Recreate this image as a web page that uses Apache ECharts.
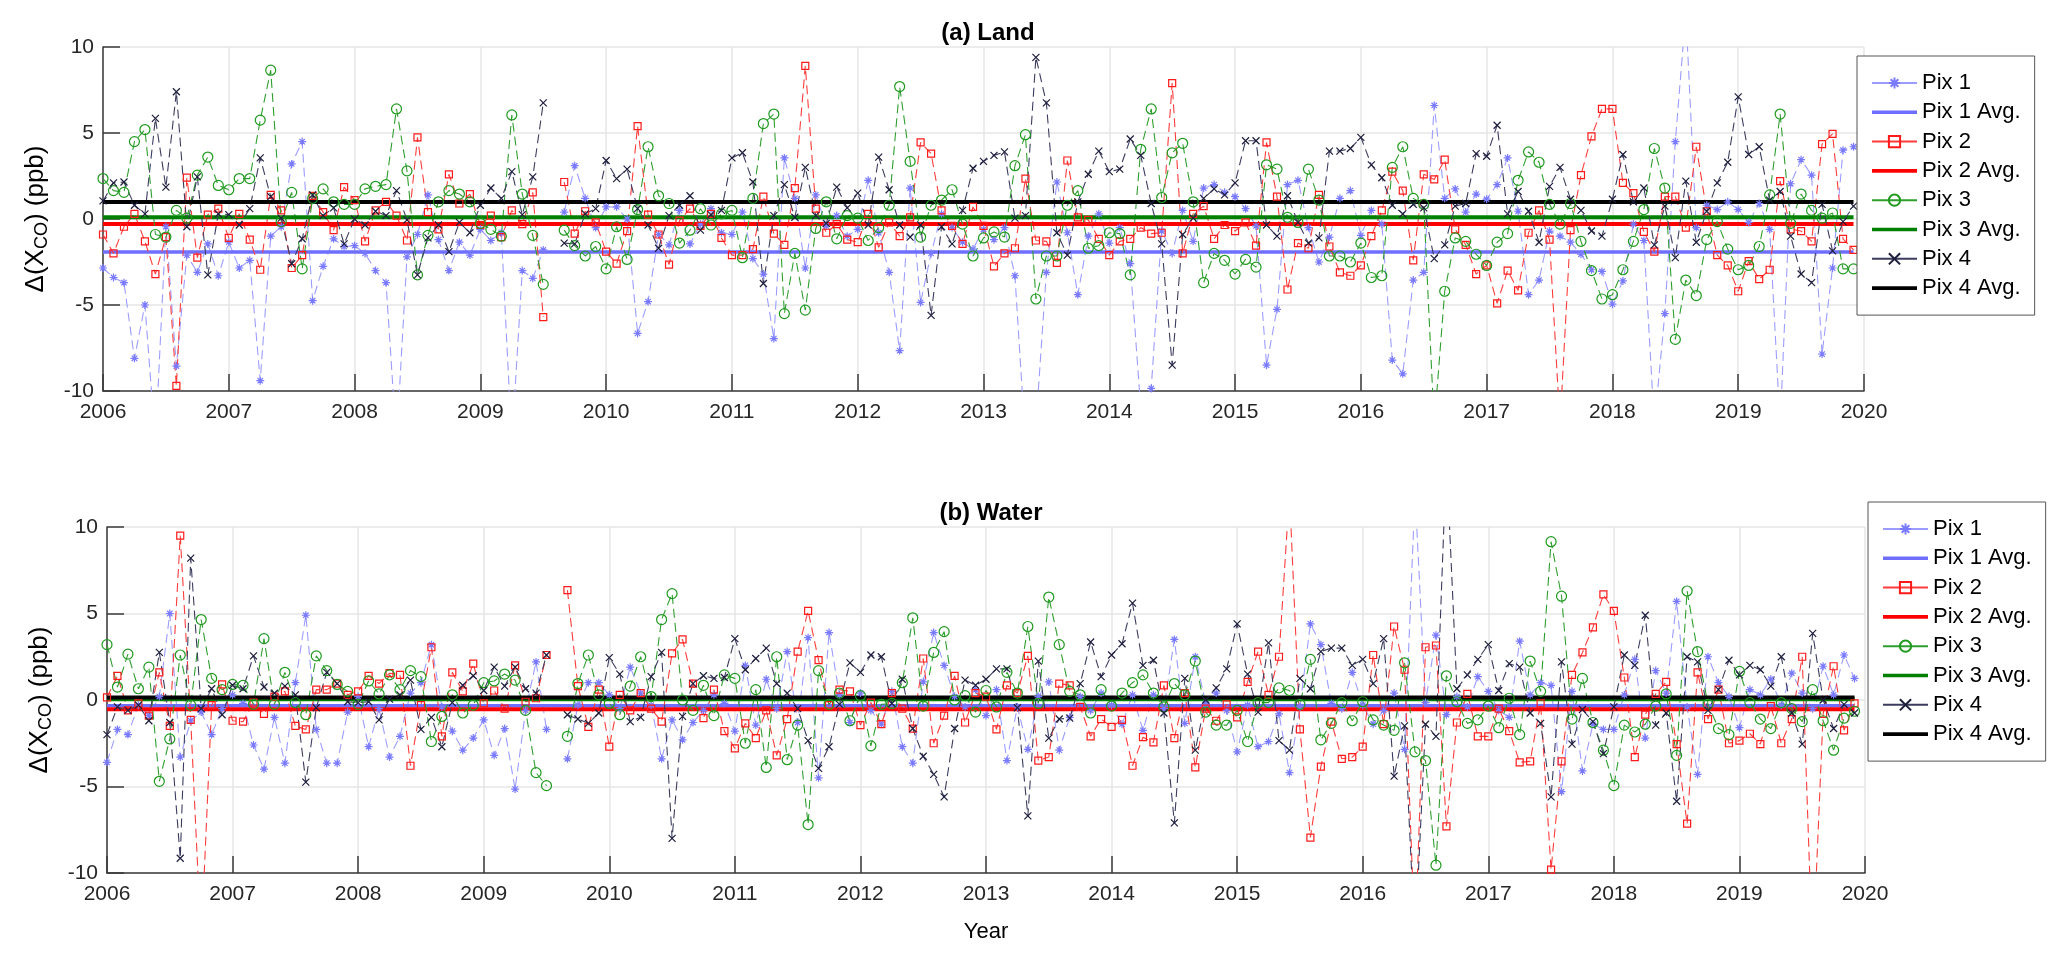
<!DOCTYPE html>
<html><head><meta charset="utf-8">
<script src="https://cdn.jsdelivr.net/npm/echarts@6/dist/echarts.min.js"></script>
<style>html,body{margin:0;padding:0;background:#fff}#c{width:2067px;height:955px}</style>
</head><body><div id="c"></div>
<script>
// ---- DATA (monthly, Jan 2006 .. Dec 2019; null = no data) ----
const startYear = 2006;
const yearTicks = [2006,2007,2008,2009,2010,2011,2012,2013,2014,2015,2016,2017,2018,2019,2020];
const seriesNames = ['Pix 1','Pix 1 Avg.','Pix 2','Pix 2 Avg.','Pix 3','Pix 3 Avg.','Pix 4','Pix 4 Avg.'];

// (a) Land
const landPix1 = [
-2.85,-3.4,-3.7,-8.1,-5.0,-13,-0.45,-8.55,-2.1,-3.1,-1.45,-3.3,
-1.35,-2.85,-2.4,-9.4,-1.0,-0.45,3.2,4.5,-4.75,-2.75,-1.15,-1.6,
-1.55,-2.0,-3.0,-3.7,-13,-2.2,-0.9,1.4,-1.2,-3.0,-1.35,-2.1,
-0.6,-1.25,-0.8,-13,-3.0,-3.45,-1.8,null,0.4,3.1,1.2,-0.5,
0.7,0.7,0.0,-6.65,-4.8,-0.9,-1.5,0.5,-1.45,-0.3,0.6,-0.8,
-0.9,0.4,-2.3,-3.2,-6.95,3.55,1.2,-2.85,1.4,-0.4,0.2,-1.0,
-0.6,2.25,-0.8,-3.1,-7.65,1.8,-4.85,-2.0,0.3,-0.5,-1.35,-1.75,
-0.6,-1.2,-0.5,-3.3,-13,-12,-3.1,2.15,-0.8,-4.4,-1.0,0.3,
-1.4,-0.5,-2.6,-11,-9.85,-0.7,-2.0,0.5,-1.3,1.8,2.0,1.55,
1.3,0.6,-0.4,-8.5,-5.25,2.0,2.25,-0.5,-2.5,-1.05,1.2,1.65,
-0.95,0.5,-0.3,-8.2,-9.0,-3.55,-3.1,6.6,1.2,1.75,0.4,1.45,
1.15,2.0,3.55,0.45,-4.4,-3.55,-0.7,-1.0,-1.35,-2.05,-2.95,-3.05,
-4.95,-3.6,-0.3,-1.25,-12,-5.5,4.5,12,-0.5,0.8,0.55,1.0,
0.55,-0.2,0.9,-0.6,-12,2.05,3.45,2.55,-7.85,-2.85,4.0,4.2];
const landPix2 = [
-0.9,-2.0,-0.45,0.3,-1.3,-3.2,-1.05,-9.7,2.4,-2.25,0.25,0.6,
-1.1,0.3,-1.2,-2.95,1.4,0.5,-2.85,-2.1,1.35,0.4,-0.65,1.85,
1.1,-1.3,0.5,1.0,0.2,-1.25,4.75,0.4,-0.6,2.6,0.9,1.45,
-0.35,0.2,-1.05,0.5,-0.3,1.55,-5.7,null,2.15,-0.85,0.45,-0.2,
-1.9,-2.6,-0.7,5.4,0.25,-0.9,-2.65,-0.1,0.6,-0.4,0.3,-1.1,
-2.1,-2.1,-1.75,1.3,-0.85,-1.5,1.8,8.9,0.6,-0.8,-0.3,-1.2,
-1.35,0.3,-1.65,-0.2,-1.0,0.1,4.45,3.8,0.5,-0.4,-1.45,0.7,
-0.4,-2.75,-2.0,-1.7,2.35,-1.25,-1.3,-2.55,3.4,0.1,-0.05,-1.15,
-2.1,-1.3,-1.15,-0.5,-0.85,-0.8,7.9,-2.0,0.3,0.75,-1.15,-0.35,
-0.7,-0.2,-1.55,4.45,1.3,-4.1,-1.4,-1.7,1.4,-1.6,-3.1,-3.3,
-2.7,-1.0,0.5,2.75,1.65,-2.4,2.6,2.3,3.45,-0.6,-1.5,-3.2,
-2.7,-4.9,-3.0,-4.15,-0.8,0.5,-1.2,-12,-0.65,2.55,4.8,6.4,
6.4,2.1,1.5,-0.75,-1.9,1.3,1.3,-0.5,4.2,0.45,-2.1,-2.7,
-4.2,-2.45,-3.5,-2.95,2.2,-0.6,-0.7,-1.3,4.35,4.95,-1.15,-1.8];
const landPix3 = [
2.35,1.65,1.55,4.5,5.2,-0.9,-1.05,0.5,0.05,2.55,3.6,1.95,
1.7,2.35,2.35,5.75,8.65,-0.15,1.55,-2.9,1.2,1.75,1.0,0.85,
0.85,1.75,1.9,2.0,6.4,2.8,-3.25,-0.95,1.0,1.65,1.45,1.0,
-0.25,-0.6,-1.0,6.05,1.45,-0.95,-3.8,null,-0.65,-1.55,-2.15,-1.6,
-2.9,-0.45,-2.35,0.55,4.2,1.35,0.9,-1.4,-0.65,0.6,-0.35,0.3,
0.5,-2.25,1.2,5.55,6.1,-5.5,-2.0,-5.3,-0.55,1.0,-1.15,0.2,
0.05,-1.25,-0.5,0.8,7.7,3.35,-1.05,0.8,1.1,1.7,-0.3,-2.15,
-1.1,-0.75,-1.05,3.1,4.9,-4.65,-2.15,-2.15,0.8,1.65,-1.7,-1.55,
-0.8,-0.85,-3.25,4.05,6.4,1.25,3.85,4.4,1.0,-3.7,-2.0,-2.4,
-3.2,-2.35,-2.8,3.15,2.9,0.1,-0.2,2.9,1.1,-2.15,-2.15,-2.5,
-1.4,-3.4,-3.3,3.0,4.2,1.2,0.85,-12,-4.2,-1.1,-1.3,-2.05,
-2.7,-1.35,-0.85,2.25,3.9,3.3,0.85,-0.3,0.9,-1.3,-3.0,-4.65,
-4.4,-2.95,-1.3,0.55,4.1,1.8,-7.0,-3.55,-4.45,-1.2,-0.15,-1.75,
-2.95,-2.7,-1.6,1.4,6.1,-0.25,1.45,0.5,0.05,0.35,-2.9,-2.9];
const landPix4 = [
1.05,2.1,2.15,0.8,0.3,5.85,1.85,7.4,-0.45,2.45,-3.25,0.3,
0.25,-0.35,0.6,3.55,1.3,0.05,-2.6,-1.15,1.4,0.2,0.65,-1.45,
0,-0.35,0.45,0.2,1.65,-0.05,-3.25,-1.1,-0.35,-1.9,-0.2,-0.8,
0.8,1.8,1.2,2.75,0.25,2.45,6.75,null,-1.4,-1.45,0.3,0.6,
3.4,2.35,2.9,0.6,-0.35,-1.7,0.2,0.8,1.35,-0.65,0.25,0.5,
3.55,3.85,2.15,-3.75,0.2,2.0,0.1,3.0,0.2,-0.25,1.85,0.65,
1.5,-0.35,3.6,1.7,-0.35,-1.05,-0.35,-5.6,-0.45,-1.45,0.5,2.95,
3.35,3.7,3.9,0.05,0.2,9.4,6.75,-0.8,-2.1,1.0,2.6,3.95,
2.75,2.9,4.65,3.7,0.9,-1.45,-8.5,-0.9,0.05,1.2,1.75,1.4,
2.1,4.55,4.55,-0.35,-1.0,1.35,-0.2,-1.4,-1.1,3.95,3.95,4.1,
4.75,3.15,2.4,0.8,0.3,0.85,0.65,-2.3,-1.5,0.75,0.9,3.8,
3.65,5.45,0.3,1.6,0.45,-1.35,1.9,3.0,1.15,0.5,-0.7,-1.0,
1.15,3.75,1.0,1.8,-1.5,0.75,-2.25,2.2,-1.35,0.45,2.1,3.3,
7.1,3.75,4.2,1.1,1.6,-1.0,-3.2,-3.7,0.85,-1.85,-0.15,0.75];
const landAvg = [-1.92, -0.29, 0.10, 0.99];

// (b) Water
const waterPix1 = [
-3.6,-1.7,-2.0,-0.3,-0.9,0.2,5.0,-3.3,-1.2,-0.7,-2.0,-0.5,
0.3,-0.2,-2.6,-4.0,-1.0,-3.65,1.0,4.9,-1.7,-3.65,-3.65,-0.7,
0.2,-2.7,-0.5,-3.3,-2.1,0.4,1.0,3.2,-0.4,-1.8,-2.9,-2.2,
-1.15,-3.2,-1.65,-5.15,-0.6,2.2,-1.7,null,-3.4,-0.3,1.0,1.0,
0.3,-0.5,1.9,0.4,-0.3,-3.4,-1.15,-2.3,-1.3,-0.6,0.3,-0.2,
-1.8,2.0,-1.45,1.2,-0.5,2.8,-1.3,3.6,-4.5,3.9,0.3,-1.3,
0.4,-0.6,-1.4,0.5,-2.7,-3.65,1.05,3.9,2.0,0.2,-0.4,0.6,
-0.9,0.6,-3.5,-0.4,-2.85,0.2,1.05,-2.9,-1.0,0.2,-0.6,0.4,
-0.3,-1.4,0.3,-1.75,0.3,-0.5,3.5,-1.35,2.5,-0.2,0.4,-0.6,
-3.0,-0.3,-2.7,-2.4,-0.8,-4.2,-0.4,4.4,3.2,-0.2,-0.5,1.6,
-0.3,-1.4,-0.6,0.4,-2.85,12,-0.15,3.75,-0.85,0.2,-0.4,1.35,
0.5,-0.6,-1.0,3.4,0.3,1.0,0.85,-5.3,0.5,-4.1,-1.4,-1.7,
-1.7,0.3,2.35,-2.2,1.7,0.4,5.7,-0.4,-4.3,2.5,1.0,0.2,
-1.6,0.6,0.3,1.2,-0.3,1.55,0.4,-0.5,1.95,0.3,2.6,1.25];
const waterPix2 = [
0.15,1.4,-0.6,-0.2,-0.9,1.6,-1.5,9.5,-1.15,-14,-0.3,0.9,
-1.2,-1.25,-0.15,-0.8,0.2,0.5,-1.5,-1.7,0.6,0.6,0.95,0.3,
0.5,1.4,0.95,1.55,1.45,-3.8,-0.3,3.05,-2.1,1.6,0.5,2.1,
-0.2,0.55,-0.5,2.0,-0.1,0.1,2.6,null,6.35,0.8,-1.55,0.6,
-2.7,0.3,-0.6,0.4,-0.5,-1.25,2.7,3.5,0.95,-1.05,0.6,-1.8,
-2.8,-1.35,-2.2,-0.6,-3.2,-1.1,2.8,5.15,2.3,-0.3,0.6,0.5,
-1.45,-0.15,-1.4,0.4,-0.5,-1.65,2.4,-2.5,-0.9,1.4,-1.3,0.4,
0.2,-1.7,0.85,0.4,2.55,-3.5,-3.3,0.95,0.85,-0.4,-2.1,-1.1,
-1.55,-1.15,-3.8,-2.15,-2.45,0.85,-2.2,0.4,-3.9,-0.5,-1.2,-0.25,
-1.0,1.05,2.8,0.3,2.5,12,-1.7,-7.95,-3.85,-1.25,-3.4,-3.3,
-2.7,2.6,-1.4,4.25,1.75,-14,3.05,3.15,-7.3,-1.3,0.35,-2.1,
-2.1,-0.5,-1.8,-3.6,-3.55,-0.2,-9.8,-3.55,1.45,2.75,4.2,6.1,
5.15,1.3,-3.3,-0.85,0.35,1.05,-2.55,-7.15,1.6,-1.1,0.6,-2.5,
-2.35,-1.95,-2.55,-0.35,-2.5,-1.1,2.5,-15,-0.8,1.95,-1.75,-0.2];
const waterPix3 = [
3.2,0.75,2.65,0.65,1.9,-4.7,-2.25,2.6,-0.3,4.65,1.25,0.6,
0.9,0.85,-0.25,3.55,-0.25,1.6,-0.15,-0.85,2.55,1.7,0.9,0.5,
-0.25,1.1,0.35,1.45,0.6,1.7,1.35,-2.4,-0.95,0.3,-0.75,-0.3,
1.0,1.1,1.5,1.15,-0.6,-4.2,-4.95,null,-2.1,0.95,2.6,0.3,
-0.2,-0.85,0.8,2.5,0.2,4.65,6.15,0,-0.6,0.85,-0.9,1.45,
1.25,-2.5,0.6,-3.9,2.5,-3.45,-1.45,-7.2,1.7,-0.25,0.4,-1.2,
0.25,-2.65,-0.25,-0.2,1.0,4.75,-0.35,2.75,3.95,0,0.25,-0.7,
0.55,-0.4,1.6,0.4,4.25,-0.2,5.95,3.2,0.5,0.3,-0.75,0.6,
-0.35,0.4,1.0,1.45,0.4,-0.4,0.95,0.3,2.25,-0.7,-1.45,-1.45,
-0.6,-2.4,-0.15,-0.15,0.7,0.55,-0.25,2.35,-2.3,-1.35,-0.15,-1.2,
-0.1,-1.15,-1.45,-1.75,2.15,-3.0,-3.5,-9.55,1.4,-0.1,-1.35,-1.15,
-0.35,-1.6,0.1,-2.0,2.25,0.5,9.15,6.0,-1.1,1.25,-1.3,-2.9,
-4.95,-1.45,-1.85,-1.4,-0.35,0.35,-3.2,6.3,2.8,-0.25,-1.65,-2.0,
1.65,-0.15,-1.1,-1.65,-0.15,-0.5,-1.25,0.6,-1.2,-2.9,-1.05,-0.65];
const waterPix4 = [
-2.0,-0.4,-0.6,-0.3,-1.2,2.75,-1.3,-9.15,8.2,-0.5,0.65,-0.85,
0.85,0.65,2.55,0.75,0.4,0.8,0.3,-4.75,-0.45,1.6,0.95,-0.1,
-0.15,-0.1,-1.15,0.05,0.3,1.15,-1.7,-1.0,-2.7,-0.15,0.85,1.4,
0.55,1.9,0.8,1.9,0.65,0.4,2.6,null,-0.85,-1.1,-1.35,-0.75,
2.45,1.5,-1.25,-1.0,1.35,2.75,-8.0,-0.95,0.95,1.4,1.25,1.3,
3.55,1.75,2.4,3.0,0.95,0.4,-0.5,-2.35,-3.95,-2.7,-0.25,2.15,
1.6,2.6,2.5,-0.2,1.2,-1.65,-3.25,-4.3,-5.6,-1.65,1.15,0.85,
1.2,1.8,1.8,-0.45,-6.7,2.25,-2.2,-1.1,-1.05,0.95,3.35,1.35,
2.6,3.25,5.6,2.0,2.3,-0.75,-7.1,1.25,-2.9,0,0.7,1.8,
4.4,1.5,-0.7,3.3,-2.35,-2.9,1.25,0.65,2.8,3.0,3.0,2.0,
2.35,0.95,3.55,-4.4,-1.5,-14,-1.4,-2.1,14,0.65,1.45,2.35,
3.2,0.55,2.1,1.9,-0.75,-1.35,-5.6,2.2,-2.55,-0.55,-1.25,-3.1,
-0.4,2.6,2.0,4.9,-1.45,-0.75,-5.85,2.5,2.2,-0.6,0.6,2.3,
1.45,2.0,1.75,0.8,2.5,-0.75,-2.55,3.85,0,-1.65,-0.25,-0.75];
const waterAvg = [-0.33, -0.54, 0.05, 0.15];

// ---- STYLES ----
const FONT = 'Liberation Sans, Arial, Helvetica, sans-serif';
const pixStyle = [
  {color:'#7a7aff', line:'#9c9cff', symbol:'path://M5,0L5,10M0,5L10,5M1.6,1.6L8.4,8.4M8.4,1.6L1.6,8.4', size:8},
  {color:'#ff1a1a', line:'#ff3b3b', symbol:'rect', size:7},
  {color:'#1f9a1f', line:'#2e9e2e', symbol:'circle', size:10},
  {color:'#1d1d3c', line:'#3b3b5e', symbol:'path://M0,0L10,10M10,0L0,10', size:7}
];
const avgStyle = [
  {color:'#6e6eff', width:3.5},
  {color:'#ff0000', width:4},
  {color:'#008000', width:4},
  {color:'#000000', width:4}
];

function toXY(arr){ return arr.map((v,i)=>[startYear + i/12, v===null ? '-' : v]); }
function lastX(arr){ return startYear + (arr.length-1)/12; }

function buildSeries(gridIdx, pixArrays, avgs){
  const out = [];
  pixArrays.forEach((arr, k)=>{
    const s = pixStyle[k];
    out.push({
      name: seriesNames[2*k], type:'line', xAxisIndex:gridIdx, yAxisIndex:gridIdx,
      data: toXY(arr), symbol: s.symbol, symbolSize: s.size, showSymbol:true,
      connectNulls:false, clip:true, animation:false,
      itemStyle:{color:'rgba(0,0,0,0)', borderColor:s.color, borderWidth:1.2},
      lineStyle:{color:s.line, width:1.1, type:[9,5]},
      emphasis:{disabled:true}
    });
    const a = avgStyle[k];
    out.push({
      name: seriesNames[2*k+1], type:'line', xAxisIndex:gridIdx, yAxisIndex:gridIdx,
      data: [[startYear, avgs[k]], [lastX(arr), avgs[k]]], symbol:'none', animation:false,
      itemStyle:{color:a.color}, lineStyle:{color:a.color, width:a.width, type:'solid'},
      emphasis:{disabled:true}
    });
  });
  return out;
}

const axisCommonX = (gi, withName) => ({
  type:'value', gridIndex:gi, min:2006, max:2020, interval:1,
  axisLine:{show:true, onZero:false, lineStyle:{color:'#3a3a3a', width:1.5}},
  axisTick:{show:true, inside:true, length:17, lineStyle:{color:'#3a3a3a', width:1.5}},
  axisLabel:{show:true, fontSize:21, color:'#262626', fontFamily:FONT, margin:11, formatter:v=>String(v)},
  splitLine:{show:true, lineStyle:{color:'#e6e6e6', width:1.5}},
  name: withName ? 'Year' : '', nameLocation:'middle', nameGap:48,
  nameTextStyle:{fontSize:22, color:'#000', fontFamily:FONT}
});
const yNameRich = {
  a:{fontSize:26, color:'#000', fontFamily:FONT, lineHeight:30},
  s:{fontSize:18, color:'#000', fontFamily:FONT, lineHeight:14, verticalAlign:'bottom'}
};
const axisCommonY = (gi) => ({
  type:'value', gridIndex:gi, min:-10, max:10, interval:5,
  axisLine:{show:true, lineStyle:{color:'#3a3a3a', width:1.5}},
  axisTick:{show:true, inside:true, length:17, lineStyle:{color:'#3a3a3a', width:1.5}},
  axisLabel:{show:true, fontSize:21, color:'#262626', fontFamily:FONT, margin:9},
  splitLine:{show:true, lineStyle:{color:'#e6e6e6', width:1.5}},
  name:'{a|Δ(X}{s|CO}{a|) (ppb)}', nameLocation:'middle', nameGap:52, nameRotate:90,
  nameTextStyle:{rich:yNameRich}
});

// legend entries: data series keep line+marker icon, averages get a plain thick bar icon
const avgIcon = 'path://M0,0L100,0L100,8L0,8Z';
const legendData = seriesNames.map((n, i) => (i % 2 === 1)
  ? {name:n, icon:avgIcon, itemStyle:{color:avgStyle[(i-1)/2].color, borderWidth:0}}
  : {name:n});

const legendCommon = (left, top) => ({
  show:true, orient:'vertical', left:left, top:top, data:legendData,
  itemWidth:45, itemHeight:14, itemGap:7.3,
  backgroundColor:'#ffffff', borderColor:'#555555', borderWidth:1,
  padding:[16, 14, 16, 14],
  lineStyle:{type:'solid'},
  textStyle:{fontSize:22, color:'#000', fontFamily:FONT, lineHeight:22},
  selectedMode:false
});

const option = {
  backgroundColor:'#ffffff',
  animation:false,
  title:[
    {text:'(a) Land', left:983, top:16, textAlign:'center', textStyle:{fontSize:24, fontWeight:'bold', color:'#000', fontFamily:FONT}},
    {text:'(b) Water', left:986, top:496, textAlign:'center', textStyle:{fontSize:24, fontWeight:'bold', color:'#000', fontFamily:FONT}}
  ],
  grid:[
    {left:103, right:2067-1864, top:47, height:344},
    {left:107, right:2067-1865, top:527, height:346}
  ],
  xAxis:[axisCommonX(0,false), axisCommonX(1,true)],
  yAxis:[axisCommonY(0), axisCommonY(1)],
  legend:[legendCommon(1857, 56), legendCommon(1868, 502)],
  series:[].concat(
    buildSeries(0, [landPix1, landPix2, landPix3, landPix4], landAvg),
    buildSeries(1, [waterPix1, waterPix2, waterPix3, waterPix4], waterAvg)
  )
};
const chart = echarts.init(document.getElementById('c'), null, {renderer:'canvas'});
chart.setOption(option);
</script>
</body></html>
